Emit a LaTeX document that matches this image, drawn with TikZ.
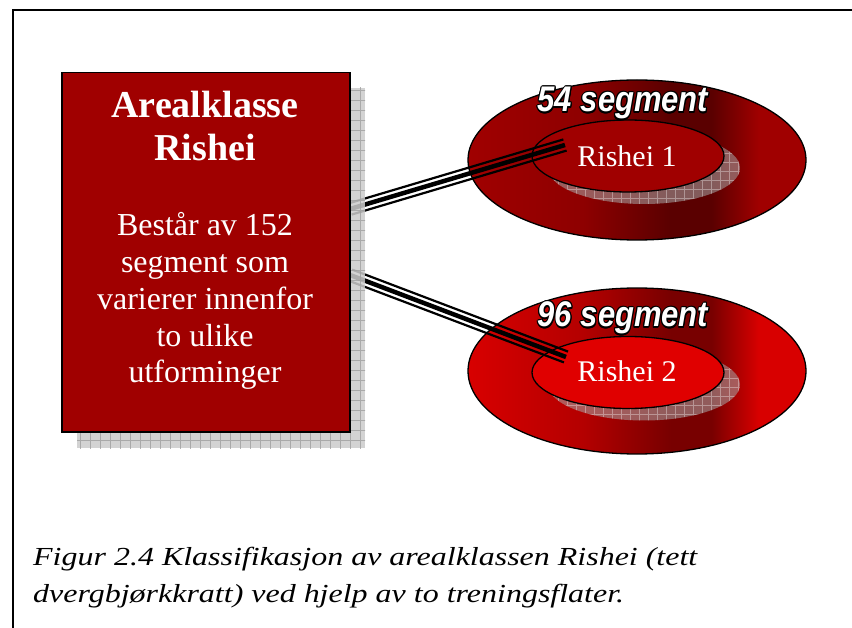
\documentclass[tikz,border=0pt]{standalone}
\usepackage{fontspec}
\setmainfont{Liberation Serif}
\newfontfamily\segfont{Liberation Sans}
\usepackage{contour}
\contourlength{1pt}
\usetikzlibrary{calc,shapes.geometric}
\definecolor{boxred}{HTML}{A00000}
\definecolor{rAa}{HTML}{A00000}
\definecolor{rAb}{HTML}{8E0000}
\definecolor{rAc}{HTML}{5A0000}
\definecolor{rBa}{HTML}{D80000}
\definecolor{rBb}{HTML}{B40000}
\definecolor{rBc}{HTML}{780000}
\definecolor{innerB}{HTML}{E00000}
\pgfdeclarehorizontalshading{ringone}{100bp}{color(0bp)=(rAa); color(25bp)=(rAa); color(42bp)=(rAb); color(55bp)=(rAc); color(61bp)=(rAc); color(68bp)=(rAa); color(100bp)=(rAa)}
\pgfdeclarehorizontalshading{ringtwo}{100bp}{color(0bp)=(rBa); color(25bp)=(rBa); color(42bp)=(rBb); color(55bp)=(rBc); color(61bp)=(rBc); color(68bp)=(rBa); color(100bp)=(rBa)}
\tikzset{
  ring/.style={ellipse, draw=black, line width=1.3pt, inner sep=0pt, minimum width=338pt},
  innerring/.style={ellipse, draw=black, line width=1.3pt, inner sep=0pt, minimum width=192pt, minimum height=72pt},
  boxtxt/.style={text=white, anchor=base, inner sep=0pt, font=\fontsize{32}{37}\selectfont},
  boxtitle/.style={text=white, anchor=base, inner sep=0pt, font=\fontsize{38}{43}\selectfont\bfseries},
  ringlbl/.style={text=white, anchor=base, inner sep=0pt, font=\fontsize{30}{34}\selectfont},
  seglbl/.style={anchor=base, inner sep=0pt, font=\segfont\fontsize{31}{34}\selectfont\bfseries\itshape},
  captxt/.style={anchor=base west, inner sep=0pt, font=\fontsize{26}{30}\selectfont\itshape},
  wire/.style={line width=#1, black, line cap=butt},
}
\newcommand{\triplewire}[2]{%
  \draw[wire=4.5pt] (#1) -- (#2);
  \draw[wire=2.2pt] ($(#1)!5.8pt!90:(#2)$) -- ($(#2)!5.8pt!-90:(#1)$);
  \draw[wire=2.2pt] ($(#1)!5.8pt!-90:(#2)$) -- ($(#2)!5.8pt!90:(#1)$);
}
\newcommand{\seglabel}[1]{\scalebox{1}[1.15]{\contour{black}{\textcolor{white}{#1}}}}
\newcommand{\captline}[1]{\scalebox{1.23}[1]{#1}}
\begin{document}
\begin{tikzpicture}[x=1pt,y=-1pt]
\useasboundingbox (0,0) rectangle (852,628);
\fill[white] (0,0) rectangle (852,628);
% frame
\draw[line width=1.5pt] (13,628) -- (13,10) -- (852,10);

% ring 1
\node[ring, minimum height=160pt, shading=ringone] (ring1) at (637,160) {};
\begin{scope}
  \clip (644,168) ellipse [x radius=96pt, y radius=36pt];
  \fill[gray!70, opacity=0.55] (540,120) rectangle (750,210);
  \draw[white, opacity=0.35, line width=0.6pt, step=9pt] (540,120) grid (750,210);
\end{scope}
\node[innerring, fill=rAa] (in1) at (628,156) {};

% ring 2
\node[ring, minimum height=166pt, shading=ringtwo] (ring2) at (637,371) {};
\begin{scope}
  \clip (644,384.5) ellipse [x radius=96pt, y radius=36pt];
  \fill[gray!70, opacity=0.55] (540,335) rectangle (750,425);
  \draw[white, opacity=0.35, line width=0.6pt, step=9pt] (540,335) grid (750,425);
\end{scope}
\node[innerring, fill=innerB] (in2) at (628,372.5) {};

% connectors
\coordinate (s1) at (350,209);
\coordinate (e1) at (565,145);
\coordinate (s2) at (350,275);
\coordinate (e2) at (566,357);
\triplewire{s1}{e1}
\triplewire{s2}{e2}

% box shadow
\begin{scope}
  \clip (77,88) rectangle (365,448);
  \fill[gray!40, opacity=0.85] (77,88) rectangle (365,448);
  \draw[gray!75, opacity=0.8, line width=0.6pt, step=10pt] (70,80) grid (370,450);
\end{scope}
% box
\node[draw=black, line width=1.5pt, fill=boxred, minimum width=288pt, minimum height=359pt, anchor=north west, inner sep=0pt] (box) at (61,72) {};

\node[boxtitle] (t1) at (205,118) {Arealklasse};
\node[boxtitle] (t2) at (205,161) {Rishei};
\node[boxtxt] (t3) at (205,236) {Består av 152};
\node[boxtxt] (t4) at (205,273) {segment som};
\node[boxtxt] (t5) at (205,310) {varierer innenfor};
\node[boxtxt] (t6) at (205,347) {to ulike};
\node[boxtxt] (t7) at (205,383) {utforminger};

\node[ringlbl] (l1) at (627,167) {Rishei 1};
\node[ringlbl] (l2) at (627,382) {Rishei 2};

\node[seglbl] (g1) at (623,112) {\seglabel{54 segment}};
\node[seglbl] (g2) at (623,327) {\seglabel{96 segment}};

\node[captxt] (c1) at (33,565) {\captline{Figur 2.4 Klassifikasjon av arealklassen Rishei (tett}};
\node[captxt] (c2) at (33,602) {\captline{dvergbjørkkratt) ved hjelp av to treningsflater.}};
\end{tikzpicture}
\end{document}
